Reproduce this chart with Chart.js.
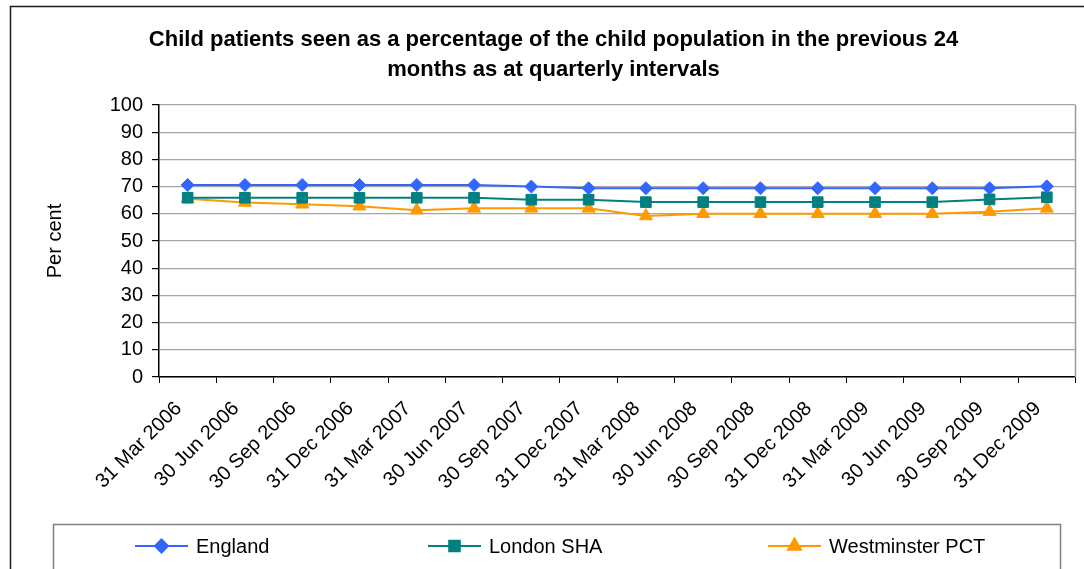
<!DOCTYPE html>
<html>
<head>
<meta charset="utf-8">
<script src="https://cdn.jsdelivr.net/npm/chart.js@4"></script>
<style>
  html, body { margin: 0; padding: 0; background: #fff; }
  #wrap { width: 1084px; height: 569px; position: relative; }
</style>
</head>
<body>
<div id="wrap"><canvas id="chart"></canvas></div>
<script>
// Quarter end dates
const quarters = [
  '31 Mar 2006', '30 Jun 2006', '30 Sep 2006', '31 Dec 2006',
  '31 Mar 2007', '30 Jun 2007', '30 Sep 2007', '31 Dec 2007',
  '31 Mar 2008', '30 Jun 2008', '30 Sep 2008', '31 Dec 2008',
  '31 Mar 2009', '30 Jun 2009', '30 Sep 2009', '31 Dec 2009'
];

// Percent of child population seen in previous 24 months
const england     = [70.6, 70.6, 70.6, 70.6, 70.6, 70.6, 70.0, 69.4, 69.4, 69.4, 69.4, 69.4, 69.4, 69.4, 69.4, 70.1];
const londonSHA   = [65.9, 65.9, 65.9, 65.9, 65.9, 65.9, 65.2, 65.2, 64.3, 64.3, 64.3, 64.3, 64.3, 64.3, 65.3, 66.1];
const westminster = [65.5, 64.2, 63.5, 62.8, 61.3, 62.0, 62.0, 62.0, 59.2, 60.0, 60.0, 60.0, 60.0, 60.0, 60.8, 62.0];

const yTicks = [0, 10, 20, 30, 40, 50, 60, 70, 80, 90, 100];

const FONT = '"Liberation Sans", Arial, sans-serif';

// Outer frame, right edge of the plot and the boxed legend
const framePlugin = {
  id: 'framePlugin',
  afterDraw(chart) {
    const ctx = chart.ctx;
    const area = chart.chartArea;
    ctx.save();

    ctx.strokeStyle = '#1a1a1a';
    ctx.lineWidth = 1.5;
    ctx.strokeRect(10.5, 6.5, 1100, 600);

    ctx.strokeStyle = '#9a9a9a';
    ctx.lineWidth = 1.5;
    ctx.beginPath();
    ctx.moveTo(area.right, area.top);
    ctx.lineTo(area.right, area.bottom);
    ctx.stroke();

    // legend
    ctx.strokeStyle = '#808080';
    ctx.lineWidth = 1.5;
    ctx.strokeRect(53.5, 524.5, 1007, 80);

    const starts = [135, 428, 768];
    const y = 546;
    chart.data.datasets.forEach((ds, i) => {
      const x = starts[i];
      ctx.strokeStyle = ds.borderColor;
      ctx.fillStyle = ds.pointBackgroundColor;
      ctx.lineWidth = 2;
      ctx.beginPath();
      ctx.moveTo(x, y);
      ctx.lineTo(x + 53, y);
      ctx.stroke();
      ctx.strokeStyle = ds.pointBorderColor;
      Chart.helpers.drawPoint(ctx, {
        pointStyle: ds.pointStyle,
        radius: ds.pointRadius,
        borderWidth: 1,
        rotation: 0
      }, x + 26.5, y);
      ctx.fillStyle = '#000';
      ctx.font = '20px ' + FONT;
      ctx.textBaseline = 'middle';
      ctx.textAlign = 'left';
      ctx.fillText(ds.label, x + 61, y + 1);
    });
    ctx.restore();
  }
};

function series(label, data, color, style, radius) {
  return {
    label: label,
    data: data,
    borderColor: color,
    backgroundColor: color,
    borderWidth: 2,
    tension: 0,
    pointStyle: style,
    pointRadius: radius,
    pointBackgroundColor: color,
    pointBorderColor: color,
    pointBorderWidth: 1
  };
}

new Chart(document.getElementById('chart').getContext('2d'), {
  type: 'line',
  data: {
    labels: quarters,
    datasets: [
      series('England', england, '#3366FF', 'rectRot', 6.5),
      series('London SHA', londonSHA, '#008080', 'rect', 7.5),
      series('Westminster PCT', westminster, '#FF9900', 'triangle', 7.5)
    ]
  },
  options: {
    responsive: true,
    maintainAspectRatio: false,
    animation: false,
    layout: {
      padding: { left: 30, right: 7, top: 0, bottom: 52 }
    },
    plugins: {
      legend: { display: false },
      tooltip: { enabled: false },
      title: {
        display: true,
        text: [
          'Child patients seen as a percentage of the child population in the previous 24',
          'months as at quarterly intervals'
        ],
        color: '#000',
        font: { family: FONT, size: 22, weight: 'bold', lineHeight: 1.364 },
        padding: { top: 25, bottom: 20 }
      }
    },
    scales: {
      x: {
        offset: true,
        grid: {
          offset: true,
          drawOnChartArea: false,
          tickLength: 6,
          tickColor: '#000'
        },
        border: { color: '#000', width: 1.5 },
        ticks: {
          autoSkip: false,
          minRotation: 45,
          maxRotation: 45,
          color: '#000',
          padding: 14,
          labelOffset: -9,
          font: { family: FONT, size: 20 }
        },
        afterFit: function(scale) { scale.height = 140; }
      },
      y: {
        min: 0,
        max: 100,
        afterBuildTicks: function(scale) {
          scale.ticks = yTicks.map(v => ({ value: v }));
        },
        grid: {
          color: '#a6a6a6',
          lineWidth: 1.2,
          tickLength: 7,
          tickColor: '#000'
        },
        border: { color: '#000', width: 1.5 },
        ticks: {
          color: '#000',
          padding: 9,
          font: { family: FONT, size: 20 }
        },
        title: {
          display: true,
          text: 'Per cent',
          color: '#000',
          font: { family: FONT, size: 20 },
          padding: { top: 13, bottom: 0 }
        },
        afterFit: function(scale) { scale.width = 129; }
      }
    }
  },
  plugins: [framePlugin]
});
</script>
</body>
</html>
